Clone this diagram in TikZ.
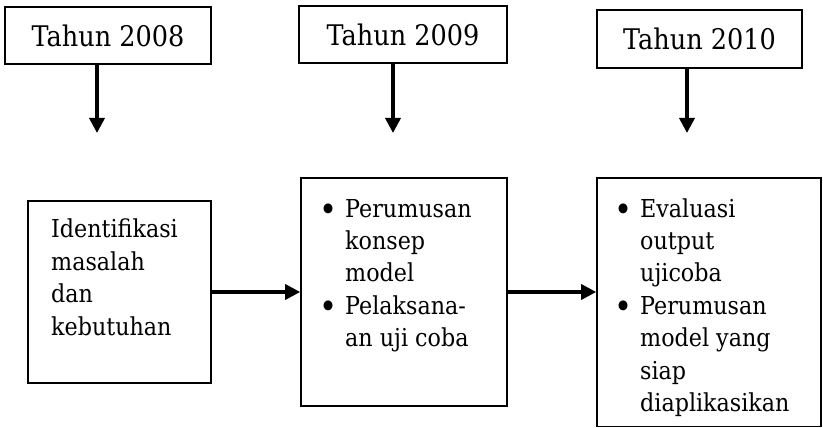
\documentclass[tikz,border=0pt]{standalone}
\usepackage{fontspec}
\setmainfont[FakeStretch=0.9]{DejaVu Serif}
\usetikzlibrary{arrows.meta}
\tikzset{
  yearbox/.style={draw, line width=1.6pt, inner sep=0pt, font=\fontsize{28.4}{34}\selectfont},
  stagebox/.style={draw, line width=1.6pt, inner sep=0pt},
  stagetext/.style={anchor=base west, inner sep=0pt, align=left, font=\fontsize{24.7}{32.4}\selectfont},
  flow/.style={line width=3.5pt, -{Triangle[length=15pt,width=15pt]}},
}
\newcommand{\bul}{\llap{\makebox[34pt]{\fontsize{34}{34}\selectfont\raisebox{-4pt}{•}}}}
\begin{document}
\begin{tikzpicture}[x=1pt,y=-1pt]
\useasboundingbox (0,0) rectangle (823,428);
% year boxes
\node[yearbox, minimum width=206pt, minimum height=57pt] (y1) at (108,35.5) {Tahun 2008};
\node[yearbox, minimum width=208pt, minimum height=57pt] (y2) at (403,34.5) {Tahun 2009};
\node[yearbox, minimum width=205pt, minimum height=58pt] (y3) at (699.5,39) {Tahun 2010};
% stage boxes
\node[stagebox, minimum width=183pt, minimum height=182pt] (s1) at (119.5,292) {};
\node[stagebox, minimum width=206pt, minimum height=228pt] (s2) at (404,292) {};
\node[stagebox, minimum width=224pt, minimum height=248.5pt] (s3) at (709,302.25) {};
% texts (anchored at the baseline of their last line)
\node[stagetext] (t1) at (51,335) {Identifikasi\\masalah\\dan\\kebutuhan};
\node[stagetext] (t2) at (345,346.6) {\bul Perumusan\\konsep\\model\\\bul Pelaksana-\\an uji coba};
\node[stagetext] (t3) at (640,411.4) {\bul Evaluasi\\output\\ujicoba\\\bul Perumusan\\model yang\\siap\\diaplikasikan};
% arrow ends
\coordinate (e1) at (97,133);
\coordinate (e2) at (393,133);
\coordinate (e3) at (687,133);
\draw[flow] (e1 |- y1.south) -- (e1);
\draw[flow] (e2 |- y2.south) -- (e2);
\draw[flow] (e3 |- y3.south) -- (e3);
\draw[flow] (s1.east) -- (s2.west);
\draw[flow] (s2.east) -- (s2.east -| s3.west);
\end{tikzpicture}
\end{document}
